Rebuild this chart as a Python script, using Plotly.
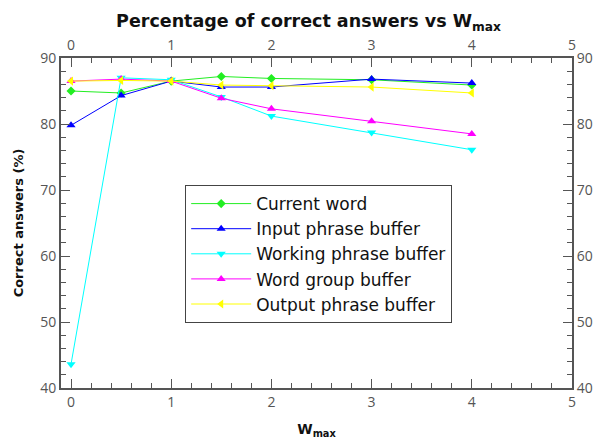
import plotly.graph_objects as go

w_max = [0, 0.5, 1, 1.5, 2, 3, 4]
current_word = [85.0, 84.7, 86.5, 87.2, 86.9, 86.7, 85.9]
input_phrase = [79.8, 84.3, 86.5, 85.6, 85.6, 86.8, 86.2]
working_phrase = [43.6, 87.0, 86.7, 84.1, 81.2, 78.7, 76.1]
word_group = [86.5, 86.8, 86.5, 83.9, 82.3, 80.4, 78.5]
output_phrase = [86.5, 86.6, 86.5, 85.9, 85.8, 85.6, 84.7]

series = [
    ("Current word", current_word, "#22ee22", "diamond", 7),
    ("Input phrase buffer", input_phrase, "#0000ff", "triangle-up", 8),
    ("Working phrase buffer", working_phrase, "#00ffff", "triangle-down", 8),
    ("Word group buffer", word_group, "#ff00ff", "triangle-up", 8),
    ("Output phrase buffer", output_phrase, "#ffff00", "triangle-left", 8),
]

fig = go.Figure()
for name, vals, col, sym, sz in series:
    fig.add_trace(go.Scatter(x=w_max, y=vals, name=name, mode="lines+markers",
                             line=dict(color=col, width=1),
                             marker=dict(symbol=sym, size=sz, color=col)))

# invisible trace for top/right axes
fig.add_trace(go.Scatter(x=[0], y=[40], xaxis="x2", yaxis="y2", showlegend=False,
                         mode="markers", marker=dict(opacity=0), hoverinfo="skip"))

tickfont = dict(family="Open Sans", size=14, color="#555")
axcommon = dict(showgrid=False, zeroline=False, ticks="inside", showline=True,
                linecolor="#555", linewidth=2, tickcolor="#555", tickwidth=1,
                ticklen=9, tickfont=tickfont, automargin=False)

fig.update_layout(
    width=601, height=441,
    margin=dict(l=53, r=37, t=50, b=61),
    paper_bgcolor="white", plot_bgcolor="white",
    title=dict(text="<b>Percentage of correct answers vs W<sub>max</sub></b>",
               x=0.5, xanchor="center", y=0.985, yanchor="top",
               font=dict(family="DejaVu Sans", size=17.5, color="#111")),
    xaxis=dict(range=[-0.1, 5], tickvals=[0, 1, 2, 3, 4, 5],
               minor=dict(dtick=0.2, tick0=0, ticks="inside", ticklen=5, tickcolor="#555"),
               title=dict(text="<b>W<sub>max</sub></b>", font=dict(family="DejaVu Sans", size=14, color="#111"), standoff=14),
               **axcommon),
    yaxis=dict(range=[40, 90], tickvals=[40, 50, 60, 70, 80, 90],
               minor=dict(dtick=2, tick0=40, ticks="inside", ticklen=5, tickcolor="#555"),
               title=dict(text="<b>Correct answers (%)</b>", font=dict(family="DejaVu Sans", size=13, color="#111"), standoff=14),
               **axcommon),
    xaxis2=dict(range=[-0.1, 5], tickvals=[0, 1, 2, 3, 4, 5], overlaying="x", side="top",
                anchor="y", minor=dict(dtick=0.2, tick0=0, ticks="inside", ticklen=5, tickcolor="#555"),
                **axcommon),
    yaxis2=dict(range=[40, 90], tickvals=[40, 50, 60, 70, 80, 90], overlaying="y", side="right",
                anchor="x", minor=dict(dtick=2, tick0=40, ticks="inside", ticklen=5, tickcolor="#555"),
                **axcommon),
    legend=dict(x=0.243, y=0.615, xanchor="left", yanchor="top",
                bgcolor="white", bordercolor="#444", borderwidth=1,
                font=dict(family="DejaVu Sans", size=17, color="#111"),
                itemwidth=60, tracegroupgap=0),
    showlegend=True,
)

fig.write_html("out.html")
